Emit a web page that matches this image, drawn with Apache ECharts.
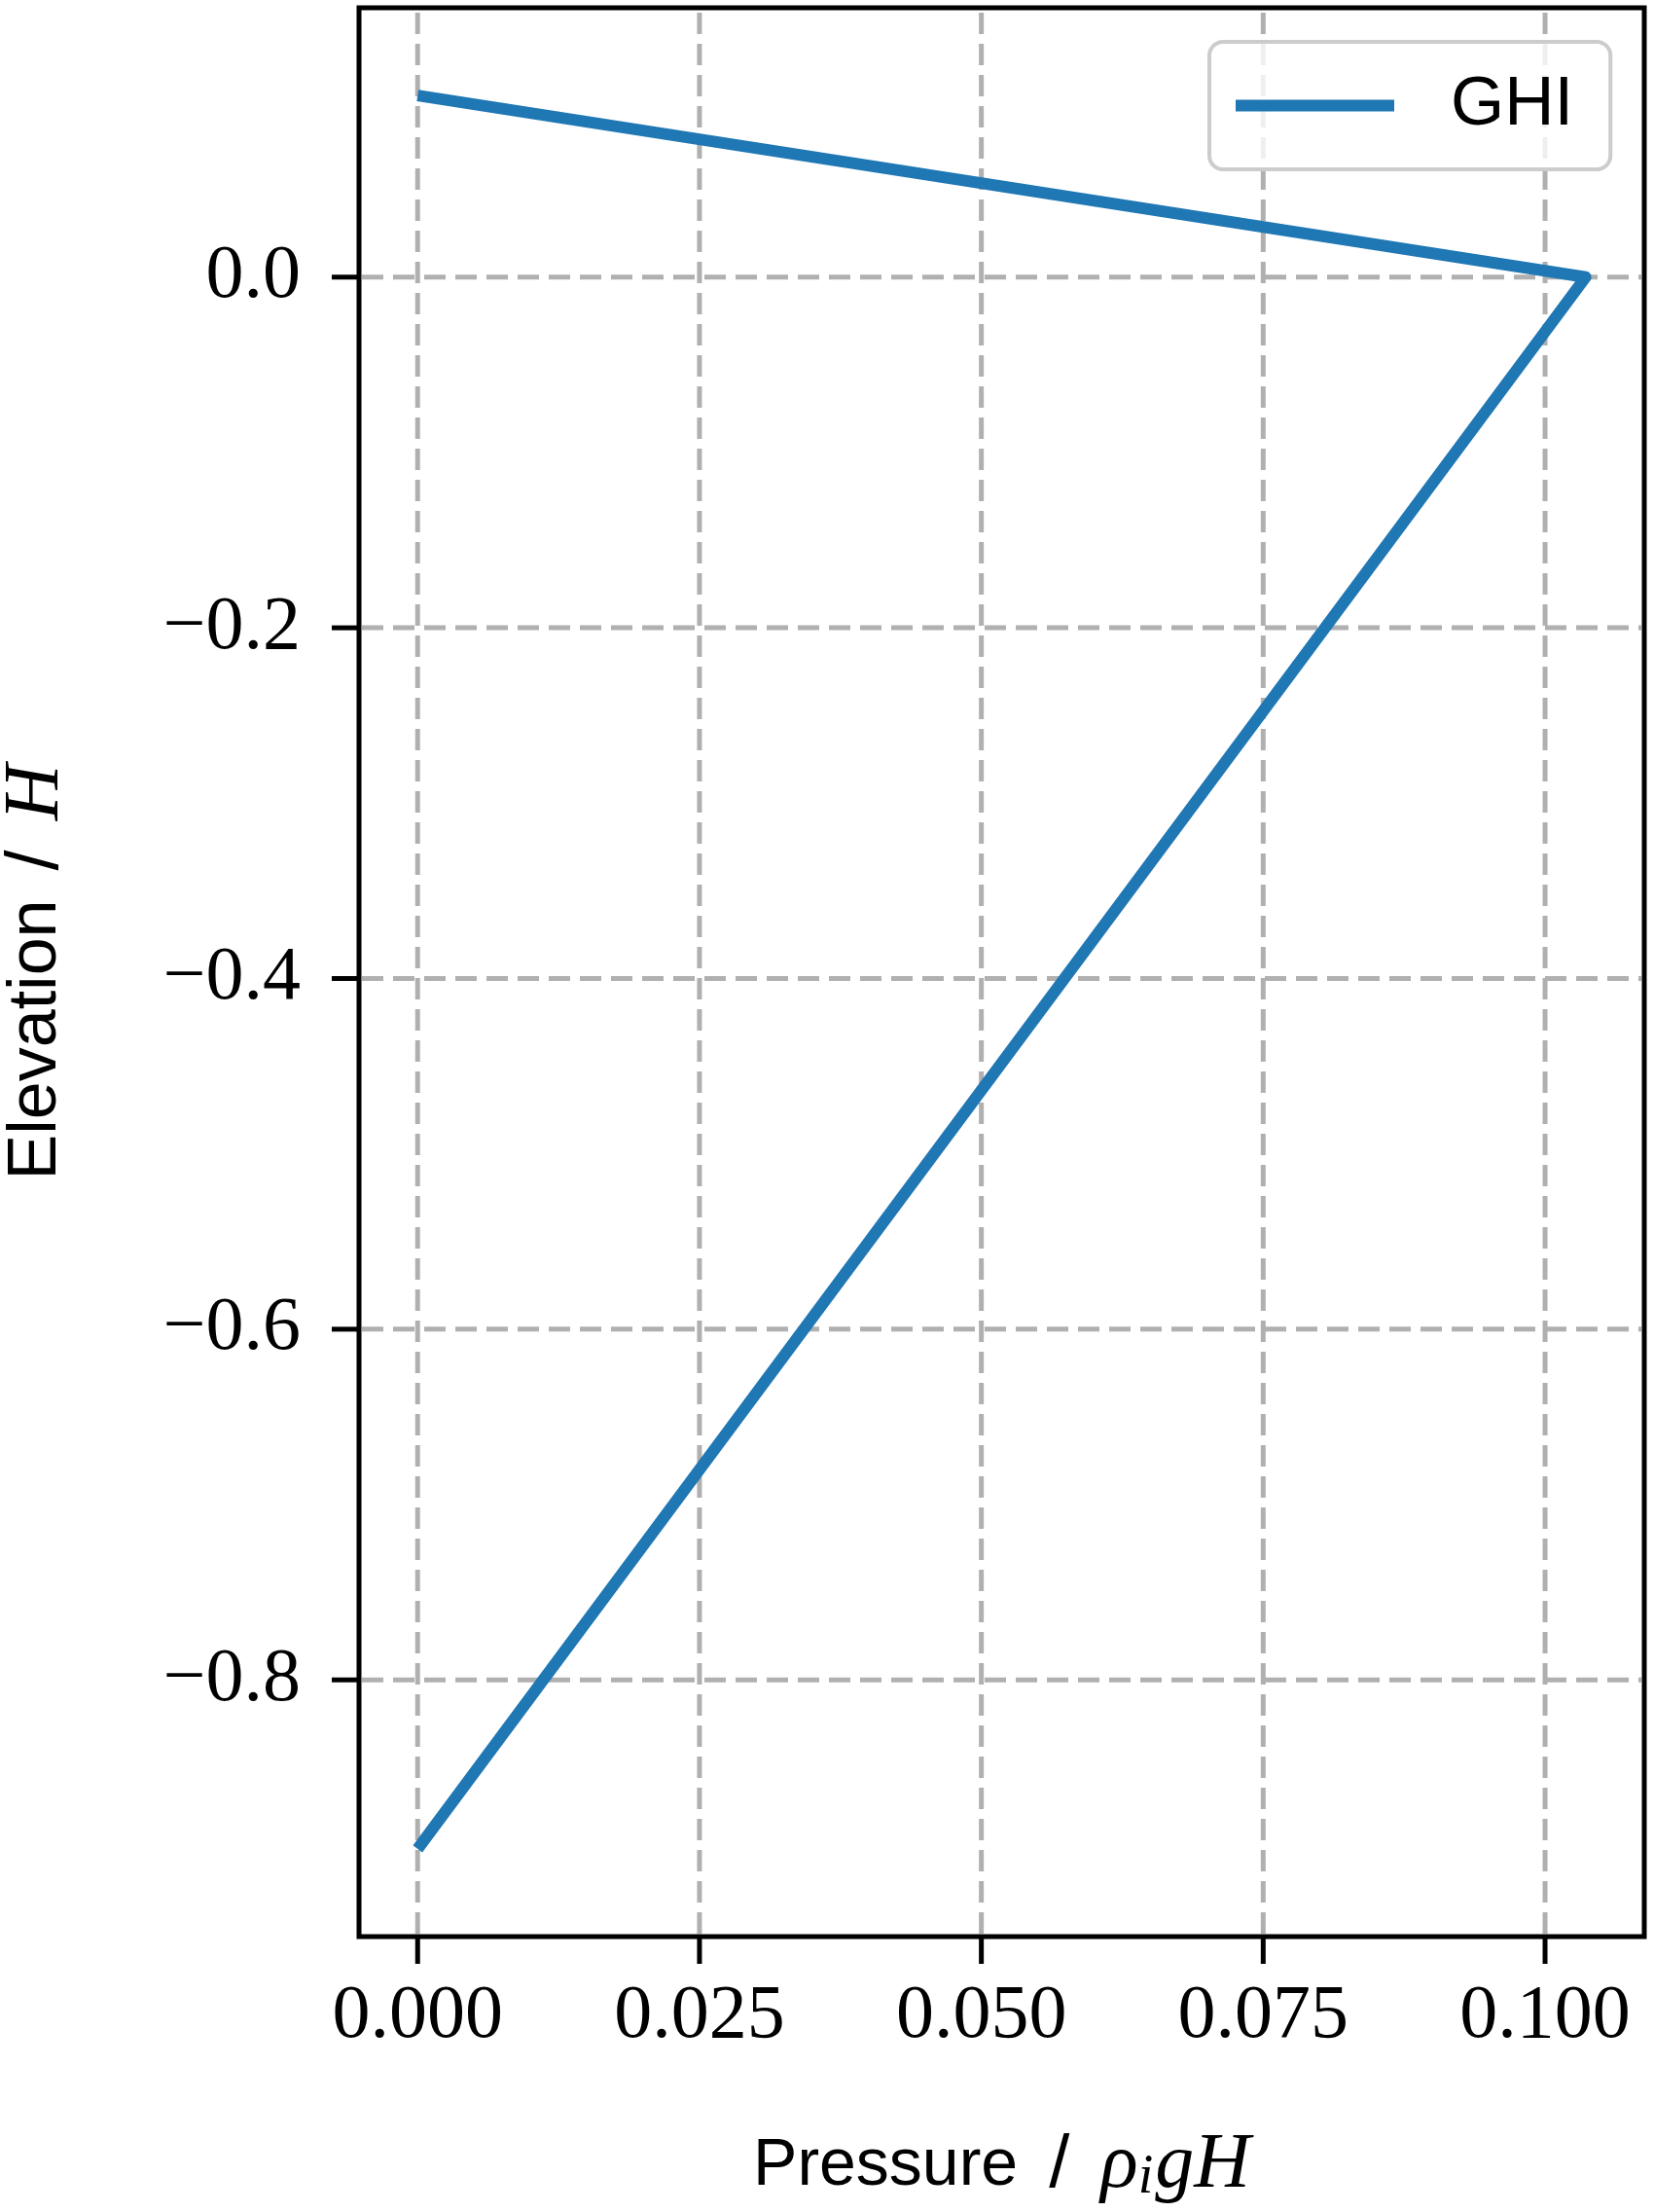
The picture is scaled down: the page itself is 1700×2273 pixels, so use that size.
<!DOCTYPE html>
<html>
<head>
<meta charset="utf-8">
<script src="https://cdn.jsdelivr.net/npm/echarts@6/dist/echarts.min.js"></script>
<style>
html,body{margin:0;padding:0;background:#fff;}
#chart{width:1700px;height:2273px;}
</style>
</head>
<body>
<div id="chart"></div>
<script>
// ---- data ----
const seriesName = 'GHI';
const pressure = [0, 0.1036, 0];
const elevation = [0.1036, 0, -0.8964];
const xTicks = [0, 0.025, 0.05, 0.075, 0.1];
const xTickLabels = ['0.000', '0.025', '0.050', '0.075', '0.100'];
const yTicks = [0, -0.2, -0.4, -0.6, -0.8];
const yTickLabels = ['0.0', '\u22120.2', '\u22120.4', '\u22120.6', '\u22120.8'];
const xRange = [-0.0052, 0.1088];
const yRange = [-0.9464, 0.1536];

const lineData = pressure.map((p, i) => [p, elevation[i]]);
const SERIF = '"Liberation Serif", "DejaVu Serif", serif';
const SANS = '"Liberation Sans", "DejaVu Sans", sans-serif';
const GRID_STYLE = { stroke: '#b0b0b0', lineWidth: 5, lineDash: [22, 10] };
const TICK_LEN = 28;

function renderXTick(params, api) {
  const v = api.value(0);
  const b = api.coord([v, yRange[0]]);
  const t = api.coord([v, yRange[1]]);
  return {
    type: 'group',
    children: [
      { type: 'line', shape: { x1: b[0], y1: b[1] - 3, x2: b[0], y2: t[1] + 3 }, style: GRID_STYLE },
      { type: 'line', shape: { x1: b[0], y1: b[1], x2: b[0], y2: b[1] + TICK_LEN },
        style: { stroke: '#000', lineWidth: 5 } },
      { type: 'text', x: b[0], y: b[1] + 83,
        style: { text: xTickLabels[params.dataIndex], fill: '#000', font: '78px ' + SERIF,
                 align: 'center', verticalAlign: 'middle' } }
    ]
  };
}
function renderYTick(params, api) {
  const v = api.value(1);
  const l = api.coord([xRange[0], v]);
  const r = api.coord([xRange[1], v]);
  return {
    type: 'group',
    children: [
      { type: 'line', shape: { x1: l[0] + 3, y1: l[1], x2: r[0] - 3, y2: l[1] }, style: GRID_STYLE },
      { type: 'line', shape: { x1: l[0], y1: l[1], x2: l[0] - TICK_LEN, y2: l[1] },
        style: { stroke: '#000', lineWidth: 5 } },
      { type: 'text', x: l[0] - 60, y: l[1],
        style: { text: yTickLabels[params.dataIndex], fill: '#000', font: '78px ' + SERIF,
                 align: 'right', verticalAlign: 'middle' } }
    ]
  };
}

const chart = echarts.init(document.getElementById('chart'), null, { renderer: 'canvas' });
chart.setOption({
  animation: false,
  backgroundColor: '#fff',
  grid: {
    left: 369, top: 8, width: 1321, height: 1982,
    outerBoundsMode: 'none', containLabel: false,
    show: true, borderColor: '#000', borderWidth: 5, backgroundColor: 'transparent'
  },
  xAxis: {
    type: 'value', min: xRange[0], max: xRange[1],
    axisLine: { show: false }, axisTick: { show: false }, axisLabel: { show: false }, splitLine: { show: false },
    name: '{s|Pressure}{sl|/}{m|\u03c1}{sub|i}{m|gH}',
    nameLocation: 'middle', nameGap: 196,
    nameTextStyle: {
      rich: {
        s: { fontFamily: SANS, fontSize: 68, color: '#000' },
        sl: { fontFamily: SANS, fontSize: 76, color: '#000', padding: [0, 32, 0, 32] },
        m: { fontFamily: SERIF, fontStyle: 'italic', fontSize: 80, color: '#000' },
        sub: { fontFamily: SERIF, fontStyle: 'italic', fontSize: 56, color: '#000', padding: [24, 2, 0, 0] }
      }
    }
  },
  yAxis: {
    type: 'value', min: yRange[0], max: yRange[1],
    axisLine: { show: false }, axisTick: { show: false }, axisLabel: { show: false }, splitLine: { show: false },
    name: '{s|Elevation}{sl|/}{m|H}',
    nameLocation: 'middle', nameGap: 291, nameRotate: 90,
    nameTextStyle: {
      rich: {
        s: { fontFamily: SANS, fontSize: 70, color: '#000' },
        sl: { fontFamily: SANS, fontSize: 76, color: '#000', padding: [0, 30, 0, 30] },
        m: { fontFamily: SERIF, fontStyle: 'italic', fontSize: 80, color: '#000' }
      }
    }
  },
  legend: {
    left: 1243, top: 43,
    padding: [30, 38, 30, 27],
    backgroundColor: 'rgba(255,255,255,0.8)',
    borderColor: '#cccccc', borderWidth: 4, borderRadius: 14,
    itemWidth: 163, itemHeight: 12,
    data: [{ name: seriesName, icon: 'rect' }],
    textStyle: { fontFamily: SANS, fontSize: 71, color: '#000', padding: [0, 0, 0, 53] }
  },
  series: [
    {
      type: 'custom', name: 'xticks', renderItem: renderXTick, silent: true, z: 1,
      data: xTicks.map(v => [v, yRange[0]])
    },
    {
      type: 'custom', name: 'yticks', renderItem: renderYTick, silent: true, z: 1,
      data: yTicks.map(v => [xRange[0], v])
    },
    {
      type: 'line', name: seriesName, data: lineData, z: 3,
      showSymbol: false, symbol: 'none',
      color: '#1f77b4',
      lineStyle: { color: '#1f77b4', width: 12, join: 'round', cap: 'butt' }
    }
  ]
});
</script>
</body>
</html>
